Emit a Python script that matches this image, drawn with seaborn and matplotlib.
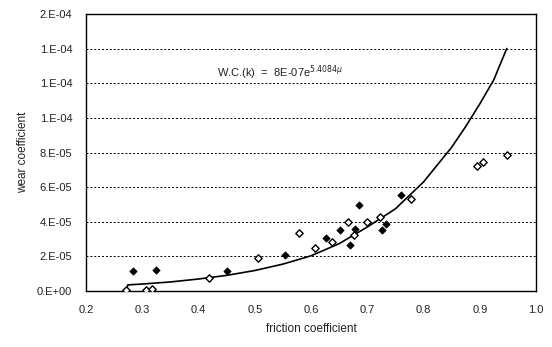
import pandas as pd
import numpy as np
import seaborn as sns
import matplotlib.pyplot as plt

# points
filled_x = [0.283, 0.324, 0.450, 0.553, 0.626, 0.651, 0.669, 0.678, 0.685, 0.727, 0.733, 0.760]
filled_y = [1.16e-5, 1.20e-5, 1.17e-5, 2.10e-5, 3.08e-5, 3.55e-5, 2.64e-5, 3.57e-5, 4.97e-5, 3.53e-5, 3.87e-5, 5.55e-5]

open_x = [0.271, 0.306, 0.318, 0.419, 0.505, 0.578, 0.607, 0.638, 0.666, 0.677, 0.700, 0.723, 0.778, 0.895, 0.906, 0.948]
open_y = [0.8e-6, 0.6e-6, 1.0e-6, 7.3e-6, 1.93e-5, 3.33e-5, 2.47e-5, 2.85e-5, 3.97e-5, 3.24e-5, 3.99e-5, 4.26e-5, 5.30e-5, 7.20e-5, 7.46e-5, 7.86e-5]

# trend line
curve_x = [0.272, 0.274, 0.30, 0.35, 0.40, 0.45, 0.50, 0.55, 0.60, 0.65, 0.70, 0.75, 0.80, 0.85, 0.875, 0.90, 0.925, 0.948]
curve_y = [0.0, 3.6e-6, 4.1e-6, 5.3e-6, 7.0e-6, 9.1e-6, 1.19e-5, 1.56e-5, 2.04e-5, 2.74e-5, 3.7e-5, 4.75e-5, 6.3e-5, 8.3e-5, 9.5e-5, 1.08e-4, 1.22e-4, 1.40e-4]

x_ticks = [0.2, 0.3, 0.4, 0.5, 0.6, 0.7, 0.8, 0.9, 1.0]
y_ticks = [0, 2e-5, 4e-5, 6e-5, 8e-5, 1.0e-4, 1.2e-4, 1.4e-4, 1.6e-4]
y_labels = ['0.E+00', '2.E-05', '4.E-05', '6.E-05', '8.E-05', '1.E-04', '1.E-04', '1.E-04', '2.E-04']

sns.set_style('white')
plt.rcParams['font.family'] = ['Liberation Sans', 'DejaVu Sans']
txt = '#222222'

filled = pd.DataFrame({'mu': filled_x, 'k': filled_y})
hollow = pd.DataFrame({'mu': open_x, 'k': open_y})
curve = pd.DataFrame({'mu': curve_x, 'k': curve_y})

fig = plt.figure(figsize=(5.52, 3.47), dpi=100)
ax = fig.add_axes([0.156, 0.161, 0.815, 0.799])

sns.lineplot(x='mu', y='k', data=curve, sort=False, estimator=None, color='black', linewidth=1.2, ax=ax)
sns.scatterplot(x='mu', y='k', data=filled, marker='D', s=14, color='black', edgecolor='black', linewidth=0.5, ax=ax, zorder=3)
sns.scatterplot(x='mu', y='k', data=hollow, marker='D', s=14, facecolor='white', edgecolor='black', linewidth=1.0, ax=ax, zorder=3)

ax.set_xlim(0.2, 1.0)
ax.set_ylim(0, 1.6e-4)
ax.set_xticks(x_ticks)
ax.set_xticklabels([f'{v:.1f}' for v in x_ticks])
ax.set_yticks(y_ticks)
ax.set_yticklabels(y_labels)

for v in y_ticks[1:-1]:
    ax.axhline(v, color='black', linestyle=(0, (2, 2)), linewidth=0.7, zorder=1)

for s in ax.spines.values():
    s.set_color('black')
    s.set_linewidth(1.0)

ax.tick_params(axis='x', direction='in', length=2, width=0.8, pad=10, labelsize=8, labelcolor=txt)
ax.tick_params(axis='y', direction='out', length=2, width=0.8, pad=8, labelsize=8, labelcolor=txt)
ax.set_xlabel('friction coefficient', fontsize=8.5, color=txt, labelpad=6)
ax.set_ylabel('wear coefficient', fontsize=8.5, color=txt, labelpad=6)

ax.text(0.432, 1.26e-4, r'W.C.(k)  =  8E-07e$^{5.4084\mu}$', fontsize=8, color=txt, va='center', ha='left')

plt.savefig('out.png', dpi=100)
